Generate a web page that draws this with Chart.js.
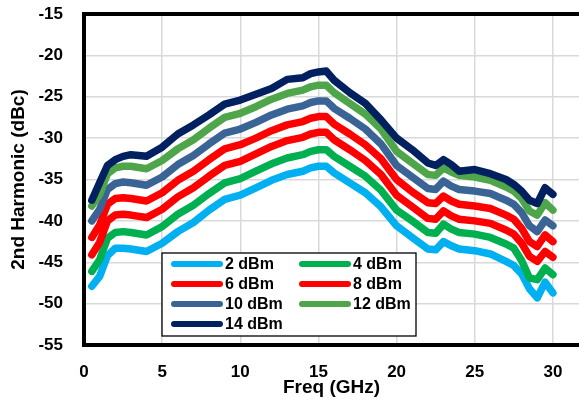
<!DOCTYPE html>
<html>
<head>
<meta charset="utf-8">
<script src="https://cdn.jsdelivr.net/npm/chart.js@4.4.1/dist/chart.umd.min.js"></script>
<style>
  html, body { margin: 0; padding: 0; background: #ffffff; }
  #wrap { width: 579px; height: 406px; position: relative; }
</style>
</head>
<body>
<div id="wrap"><canvas id="harmonic-chart"></canvas></div>
<script>
// Frequency points (GHz)
const freqs = [0.5, 1, 1.5, 2, 2.5, 3, 4, 5, 6, 7, 8, 9, 10, 11, 12, 13, 14, 14.5, 15, 15.5,
  16, 17, 18, 19, 20, 21, 22, 22.5, 23, 23.5, 24, 25, 26, 27, 27.5, 28, 28.5, 29, 29.5, 30];

// 2nd harmonic (dBc) per input power
const h2dBm = [-47.9, -46.7, -44.2, -43.3, -43.3, -43.4, -43.7, -42.7, -41.3, -40.2, -38.7, -37.4, -36.9, -36.0, -35.1, -34.4, -34.0, -33.6, -33.4, -33.4,
  -34.2, -35.4, -36.6, -38.3, -40.6, -42.0, -43.4, -43.5, -42.5, -43.0, -43.4, -43.6, -44.0, -44.9, -45.4, -46.4, -48.2, -49.3, -47.4, -48.7];
const h4dBm = [-46.1, -44.7, -42.1, -41.4, -41.3, -41.4, -41.7, -40.7, -39.2, -38.1, -36.7, -35.4, -34.9, -34.0, -33.1, -32.4, -32.0, -31.6, -31.4, -31.4,
  -32.2, -33.4, -34.6, -36.3, -38.7, -40.0, -41.4, -41.5, -40.4, -41.0, -41.4, -41.6, -42.0, -42.8, -43.3, -44.8, -46.9, -47.1, -45.7, -46.5];
const h6dBm = [-44.1, -42.6, -40.0, -39.3, -39.2, -39.3, -39.6, -38.6, -37.1, -36.0, -34.6, -33.3, -32.8, -31.9, -31.0, -30.3, -29.9, -29.5, -29.3, -29.3,
  -30.2, -31.4, -32.7, -34.4, -36.9, -38.3, -39.7, -39.8, -38.8, -39.4, -39.8, -40.0, -40.3, -41.1, -41.6, -42.7, -44.3, -44.9, -43.7, -44.4];
const h8dBm = [-42.0, -40.5, -38.0, -37.3, -37.2, -37.3, -37.6, -36.6, -35.1, -34.0, -32.6, -31.3, -30.8, -30.0, -29.1, -28.4, -28.0, -27.6, -27.4, -27.4,
  -28.3, -29.5, -30.8, -32.5, -35.0, -36.5, -37.8, -37.9, -37.0, -37.6, -38.0, -38.2, -38.5, -39.3, -39.8, -40.9, -42.5, -43.1, -41.7, -42.5];
const h10dBm = [-40.0, -38.6, -36.2, -35.5, -35.3, -35.4, -35.7, -34.7, -33.2, -32.1, -30.7, -29.4, -28.9, -28.1, -27.2, -26.5, -26.1, -25.7, -25.5, -25.5,
  -26.4, -27.6, -28.9, -30.7, -33.3, -34.7, -36.1, -36.2, -35.2, -35.8, -36.2, -36.4, -36.7, -37.5, -38.0, -39.0, -40.6, -41.3, -39.9, -40.6];
const h12dBm = [-38.2, -36.8, -34.3, -33.6, -33.4, -33.4, -33.7, -32.7, -31.3, -30.2, -28.8, -27.5, -27.0, -26.2, -25.3, -24.6, -24.2, -23.8, -23.6, -23.6,
  -24.5, -25.8, -27.1, -28.9, -31.6, -33.0, -34.4, -34.5, -33.6, -34.1, -34.5, -34.7, -35.1, -35.9, -36.4, -37.3, -38.8, -39.3, -37.8, -38.7];
const h14dBm = [-37.5, -35.4, -33.3, -32.6, -32.2, -32.0, -32.2, -31.1, -29.5, -28.4, -27.2, -25.9, -25.4, -24.7, -24.0, -22.9, -22.7, -22.2, -22.0, -21.9,
  -23.0, -24.5, -25.8, -27.8, -30.0, -31.4, -33.0, -33.3, -32.6, -33.2, -34.0, -33.8, -34.3, -35.0, -35.6, -36.4, -37.5, -37.9, -36.0, -36.8];

const seriesLabels = ["2 dBm", "4 dBm", "6 dBm", "8 dBm", "10 dBm", "12 dBm", "14 dBm"];
const seriesData = [h2dBm, h4dBm, h6dBm, h8dBm, h10dBm, h12dBm, h14dBm];
const seriesColors = ["#00b0f0", "#00b050", "#ff0000", "#ff0000", "#3b6496", "#4ea54a", "#002060"];

const yTicks = [-55, -50, -45, -40, -35, -30, -25, -20, -15];
const xTicks = [0, 5, 10, 15, 20, 25, 30];

const fontFamily = "'Liberation Sans', Arial, sans-serif";

// Excel-like top frame line
const framePlugin = {
  id: "frame",
  afterDraw(chart) {
    const { ctx, chartArea } = chart;
    ctx.save();
    ctx.strokeStyle = "#000000";
    ctx.lineWidth = 4;
    ctx.beginPath();
    ctx.moveTo(chartArea.left - 2, chartArea.top);
    ctx.lineTo(chart.width, chartArea.top);
    ctx.stroke();
    ctx.restore();
  }
};

// Boxed two-column legend inside the plot
const boxLegend = {
  id: "boxLegend",
  afterDraw(chart) {
    const ctx = chart.ctx;
    const box = { x: 162, y: 253, w: 254, h: 83 };
    ctx.save();
    ctx.fillStyle = "#ffffff";
    ctx.fillRect(box.x, box.y, box.w, box.h);
    ctx.strokeStyle = "#000000";
    ctx.lineWidth = 1.3;
    ctx.strokeRect(box.x, box.y, box.w, box.h);
    ctx.font = "bold 16px " + fontFamily;
    ctx.textBaseline = "middle";
    ctx.textAlign = "left";
    ctx.lineCap = "round";
    ctx.lineWidth = 6;
    chart.data.datasets.forEach((ds, i) => {
      const col = i % 2;
      const row = Math.floor(i / 2);
      const x0 = col === 0 ? 174 : 302;
      const y = 264 + row * 20;
      ctx.strokeStyle = ds.borderColor;
      ctx.beginPath();
      ctx.moveTo(x0, y);
      ctx.lineTo(x0 + 46, y);
      ctx.stroke();
      ctx.fillStyle = "#000000";
      ctx.fillText(ds.label, x0 + 51, y + 1);
    });
    ctx.restore();
  }
};

const datasets = seriesLabels.map((label, i) => ({
  label: label,
  data: freqs.map((f, j) => ({ x: f, y: seriesData[i][j] })),
  borderColor: seriesColors[i],
  backgroundColor: seriesColors[i],
  borderWidth: 7.5,
  borderCapStyle: "round",
  borderJoinStyle: "round",
  pointRadius: 0,
  tension: 0,
  order: seriesLabels.length - i
}));

new Chart(document.getElementById("harmonic-chart"), {
  type: "line",
  data: { datasets: datasets },
  plugins: [framePlugin, boxLegend],
  options: {
    responsive: true,
    maintainAspectRatio: false,
    animation: false,
    layout: { padding: { top: 14, right: 0, bottom: 0, left: 0 } },
    plugins: {
      legend: { display: false },
      tooltip: { enabled: false }
    },
    scales: {
      x: {
        type: "linear",
        min: 0,
        max: 31.67,
        afterBuildTicks: (scale) => {
          scale.ticks = xTicks.map((v) => ({ value: v }));
        },
        afterFit: (scale) => {
          scale.height = 61;
          scale.paddingLeft = 0;
          scale.paddingRight = 0;
        },
        ticks: {
          color: "#000000",
          padding: 17,
          font: { family: fontFamily, size: 17, weight: "bold" }
        },
        grid: { color: "#d9d9d9", lineWidth: 1.5, drawTicks: false },
        border: { display: true, color: "#000000", width: 4 },
        title: {
          display: true,
          text: "Freq (GHz)",
          color: "#000000",
          font: { family: fontFamily, size: 19, weight: "bold" },
          padding: { top: 0, bottom: 7 }
        }
      },
      y: {
        min: -55,
        max: -15,
        afterBuildTicks: (scale) => {
          scale.ticks = yTicks.map((v) => ({ value: v }));
        },
        afterFit: (scale) => {
          scale.width = 84;
          scale.paddingTop = 0;
          scale.paddingBottom = 0;
        },
        ticks: {
          color: "#000000",
          padding: 21,
          font: { family: fontFamily, size: 17, weight: "bold" }
        },
        grid: { color: "#d9d9d9", lineWidth: 1.5, drawTicks: false },
        border: { display: true, color: "#000000", width: 4 },
        title: {
          display: true,
          text: "2nd Harmonic (dBc)",
          color: "#000000",
          font: { family: fontFamily, size: 19, weight: "bold" },
          padding: { top: 7, bottom: 0 }
        }
      }
    }
  }
});
</script>
</body>
</html>
